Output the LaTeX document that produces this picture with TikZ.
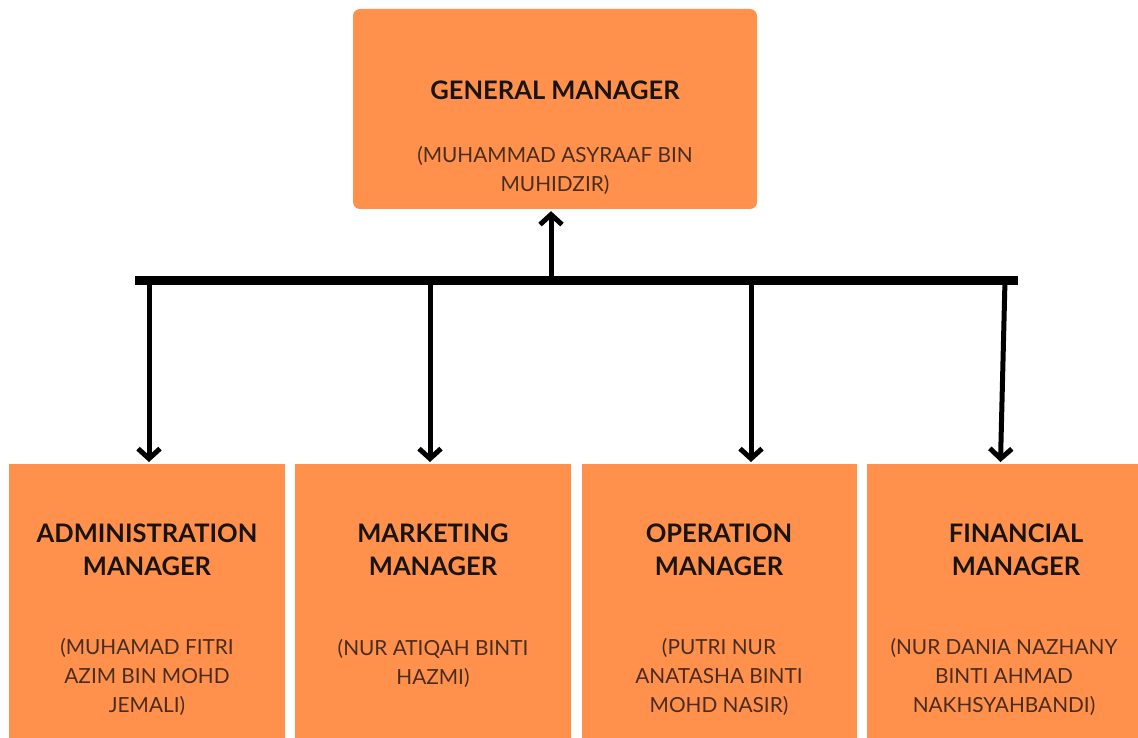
\documentclass[tikz,border=0pt]{standalone}
\usepackage{fontspec}
\setmainfont{Lato}
\usepackage{tikz}
\usetikzlibrary{arrows.meta,calc}

\definecolor{boxorange}{RGB}{255,145,77}
\definecolor{titletext}{RGB}{26,20,16}
\definecolor{nametext}{RGB}{74,44,30}

\tikzset{
  topbox/.style={fill=boxorange, rounded corners=7pt, minimum width=404pt, minimum height=200pt, inner sep=0pt},
  subbox/.style={fill=boxorange, minimum height=274pt, inner sep=0pt, anchor=north},
  title/.style={font=\bfseries\fontsize{25.5}{33}\selectfont, text=titletext, align=center},
  who/.style={font=\fontsize{20.8}{29}\selectfont, text=nametext, align=center},
  link/.style={line width=5pt},
  arr/.style={link, -{Straight Barb[length=10pt,width=22pt]}},
}

\begin{document}
\begin{tikzpicture}[x=1pt, y=-1pt]
\useasboundingbox (0,0) rectangle (1138,738);

% boxes
\node[topbox] (gm) at (555,109) {};
\node[subbox, minimum width=276pt] (adm) at (147,464) {};
\node[subbox, minimum width=276pt] (mkt) at (433,464) {};
\node[subbox, minimum width=275pt] (opr) at (719.5,464) {};
\node[subbox, minimum width=271pt] (fin) at (1002.5,464) {};

% texts
\node[title] (gmt) at (555,90) {GENERAL MANAGER};
\node[who] (gmn) at (555,170) {(MUHAMMAD ASYRAAF BIN\\MUHIDZIR)};

\node[title] (admt) at (147,550) {ADMINISTRATION\\MANAGER};
\node[who] (admn) at (147,677) {(MUHAMAD FITRI\\AZIM BIN MOHD\\JEMALI)};

\node[title] (mktt) at (433,550) {MARKETING\\MANAGER};
\node[who] (mktn) at (433,663) {(NUR ATIQAH BINTI\\HAZMI)};

\node[title] (oprt) at (719,550) {OPERATION\\MANAGER};
\node[who] (oprn) at (719,677) {(PUTRI NUR\\ANATASHA BINTI\\MOHD NASIR)};

\node[title] (fint) at (1016,550) {FINANCIAL\\MANAGER};
\node[who] (finn) at (1004,677) {(NUR DANIA NAZHANY\\BINTI AHMAD\\NAKHSYAHBANDI)};

% connectors
\coordinate (barL) at (135,280);
\coordinate (barR) at (1018,280);
\coordinate (up) at (551,280);
\coordinate (d1) at (149,280);
\coordinate (d2) at (430,280);
\coordinate (d3) at (751,280);
\coordinate (d4) at (1005,280);

\draw[line width=9pt] (barL) -- (barR);
\draw[arr] (up) -- ([yshift=-2pt]up |- gm.south);
\draw[arr] (d1) -- ([yshift=2pt]d1 |- adm.north);
\draw[arr] (d2) -- ([yshift=2pt]d2 |- mkt.north);
\draw[arr] (d3) -- ([yshift=2pt]d3 |- opr.north);
\draw[arr] (d4) -- ([xshift=-2pt,yshift=2pt]fin.north);
\end{tikzpicture}
\end{document}
